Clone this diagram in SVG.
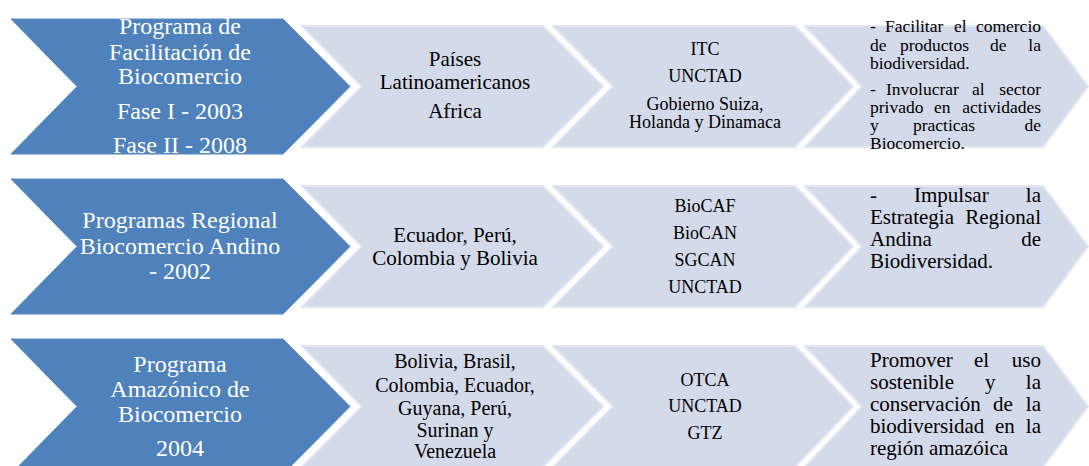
<svg xmlns="http://www.w3.org/2000/svg" width="1089" height="466" viewBox="0 0 1089 466">
<style>
.b{fill:#4F81BD;stroke:#5B8AC2;stroke-width:1}
.g{fill:#D3DAE9;stroke:#E0E5EF;stroke-width:2}
text{font-family:"Liberation Serif","Times New Roman",serif}
.tw{fill:#FFFFFF;font-size:24px;text-anchor:middle}
.t1{fill:#000;font-size:21px;text-anchor:middle}
.t1s{fill:#000;font-size:20px;text-anchor:middle}
.t2{fill:#000;font-size:18px;text-anchor:middle}
.t3{fill:#000;font-size:21px}
.t3s{fill:#000;font-size:17.5px}
.e{text-anchor:end}
.m{text-anchor:middle}
</style>
<rect width="1089" height="466" fill="#FFFFFF"/>
<g id="connectors"/>

<!-- Row 1 -->
<g id="r1-programa">
<path class="b" d="M11,19 H283 L350,86.5 L283,154 H11 L77,86.5 Z"/>
<text class="tw" x="180" y="34">Programa de</text>
<text class="tw" x="180" y="60">Facilitación de</text>
<text class="tw" x="180" y="84">Biocomercio</text>
<text class="tw" x="180" y="119">Fase I - 2003</text>
<text class="tw" x="180" y="153">Fase II - 2008</text>
</g>
<g id="r1-paises">
<path class="g" d="M302,26 H543 L603,86.5 L543,147 H302 L362,86.5 Z"/>
<text class="t1" x="455" y="66">Países</text>
<text class="t1" x="455" y="89">Latinoamericanos</text>
<text class="t1" x="455" y="118">Africa</text>
</g>
<g id="r1-actores">
<path class="g" d="M553,26 H795 L853,86.5 L795,147 H553 L613,86.5 Z"/>
<text class="t2" x="705" y="55">ITC</text>
<text class="t2" x="705" y="82">UNCTAD</text>
<text class="t2" x="705" y="110">Gobierno Suiza,</text>
<text class="t2" x="705" y="128">Holanda y Dinamaca</text>
</g>
<g id="r1-objetivos">
<path class="g" d="M805,26 H1043 L1088,86.5 L1043,147 H805 L862,86.5 Z"/>
<text class="t3s" y="32"><tspan x="870">-</tspan><tspan x="885">Facilitar</tspan><tspan x="954">el</tspan><tspan class="e" x="1041">comercio</tspan></text>
<text class="t3s" y="50.5"><tspan x="870">de</tspan><tspan x="900">productos</tspan><tspan x="990">de</tspan><tspan class="e" x="1041">la</tspan></text>
<text class="t3s" x="870" y="68.5">biodiversidad.</text>
<text class="t3s" y="94.5"><tspan x="870">-</tspan><tspan x="886">Involucrar</tspan><tspan x="972">al</tspan><tspan class="e" x="1041">sector</tspan></text>
<text class="t3s" y="113"><tspan x="870">privado</tspan><tspan x="934">en</tspan><tspan class="e" x="1041">actividades</tspan></text>
<text class="t3s" y="131"><tspan x="870">y</tspan><tspan class="m" x="944">practicas</tspan><tspan class="e" x="1041">de</tspan></text>
<text class="t3s" x="870" y="149">Biocomercio.</text>
</g>

<!-- Row 2 -->
<g id="r2-programa">
<path class="b" d="M11,179 H283 L350,246.5 L283,314 H11 L77,246.5 Z"/>
<text class="tw" x="180" y="228">Programas Regional</text>
<text class="tw" x="180" y="254">Biocomercio Andino</text>
<text class="tw" x="180" y="279">- 2002</text>
</g>
<g id="r2-paises">
<path class="g" d="M302,186 H543 L603,246.5 L543,307 H302 L362,246.5 Z"/>
<text class="t1" x="455" y="242">Ecuador, Perú,</text>
<text class="t1" x="455" y="265">Colombia y Bolivia</text>
</g>
<g id="r2-actores">
<path class="g" d="M553,186 H795 L853,246.5 L795,307 H553 L613,246.5 Z"/>
<text class="t2" x="705" y="212">BioCAF</text>
<text class="t2" x="705" y="239">BioCAN</text>
<text class="t2" x="705" y="266">SGCAN</text>
<text class="t2" x="705" y="292.5">UNCTAD</text>
</g>
<g id="r2-objetivos">
<path class="g" d="M805,186 H1043 L1088,246.5 L1043,307 H805 L862,246.5 Z"/>
<text class="t3" y="202"><tspan x="870">-</tspan><tspan x="914">Impulsar</tspan><tspan class="e" x="1041">la</tspan></text>
<text class="t3" y="224"><tspan x="870">Estrategia</tspan><tspan class="e" x="1041">Regional</tspan></text>
<text class="t3" y="246"><tspan x="870">Andina</tspan><tspan class="e" x="1041">de</tspan></text>
<text class="t3" x="870" y="268">Biodiversidad.</text>
</g>

<!-- Row 3 -->
<g id="r3-programa">
<path class="b" d="M11,339 H283 L350,406.5 L283,474 H11 L77,406.5 Z"/>
<text class="tw" x="180" y="372">Programa</text>
<text class="tw" x="180" y="397">Amazónico de</text>
<text class="tw" x="180" y="422">Biocomercio</text>
<text class="tw" x="180" y="456">2004</text>
</g>
<g id="r3-paises">
<path class="g" d="M302,346 H543 L603,406.5 L543,467 H302 L362,406.5 Z"/>
<text class="t1s" x="455" y="368">Bolivia, Brasil,</text>
<text class="t1s" x="455" y="391.5">Colombia, Ecuador,</text>
<text class="t1s" x="455" y="415">Guyana, Perú,</text>
<text class="t1s" x="455" y="436.5">Surinan y</text>
<text class="t1s" x="455" y="457.5">Venezuela</text>
</g>
<g id="r3-actores">
<path class="g" d="M553,346 H795 L853,406.5 L795,467 H553 L613,406.5 Z"/>
<text class="t2" x="705" y="386">OTCA</text>
<text class="t2" x="705" y="412">UNCTAD</text>
<text class="t2" x="705" y="439">GTZ</text>
</g>
<g id="r3-objetivos">
<path class="g" d="M805,346 H1043 L1088,406.5 L1043,467 H805 L862,406.5 Z"/>
<text class="t3" y="366.5"><tspan x="870">Promover</tspan><tspan x="974">el</tspan><tspan class="e" x="1041">uso</tspan></text>
<text class="t3" y="388.5"><tspan x="870">sostenible</tspan><tspan x="985">y</tspan><tspan class="e" x="1041">la</tspan></text>
<text class="t3" y="410.5"><tspan x="870">conservación</tspan><tspan x="993">de</tspan><tspan class="e" x="1041">la</tspan></text>
<text class="t3" y="433"><tspan x="870">biodiversidad</tspan><tspan x="995">en</tspan><tspan class="e" x="1041">la</tspan></text>
<text class="t3" x="870" y="455">región amazóica</text>
</g>
</svg>
